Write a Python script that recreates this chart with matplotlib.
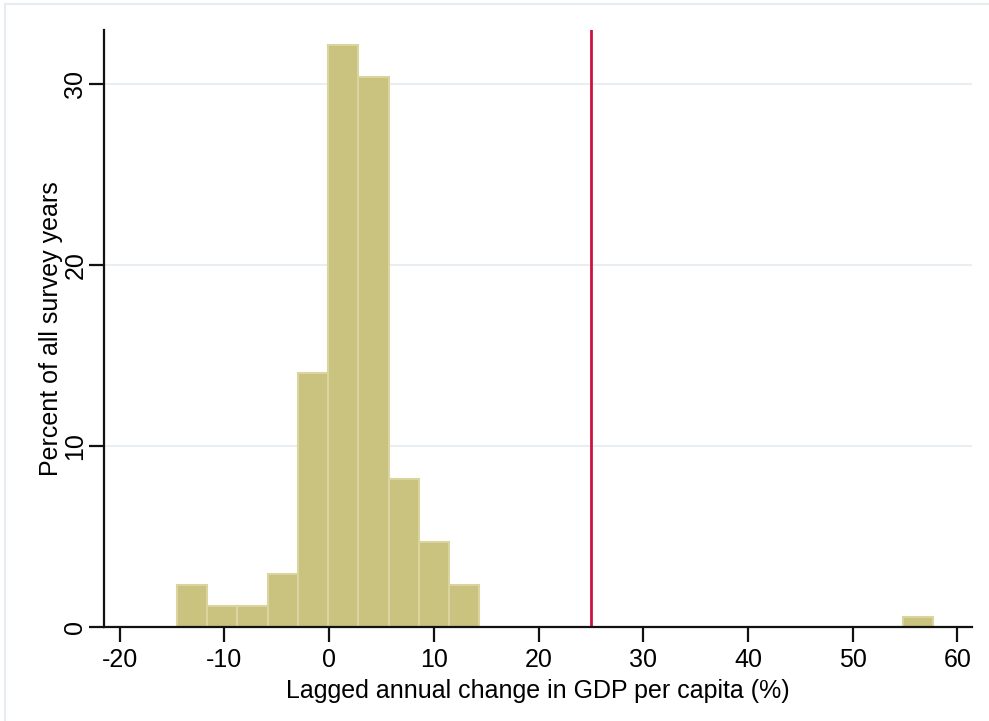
import matplotlib.pyplot as plt
import numpy as np

plt.rcParams['font.family'] = ['Liberation Sans', 'DejaVu Sans']
plt.rcParams['axes.unicode_minus'] = False

# histogram bins (Stata style: 25 bins from min to max)
bin_start = -14.55
bin_width = 2.89
percent = [2.34, 1.17, 1.17, 2.92, 14.04, 32.16, 30.41, 8.19, 4.68, 2.34,
           0, 0, 0, 0, 0, 0, 0, 0, 0, 0, 0, 0, 0, 0, 0.58]
cutoff = 25
xticks = [-20, -10, 0, 10, 20, 30, 40, 50, 60]
yticks = [0, 10, 20, 30]

fig = plt.figure(figsize=(9.89, 7.21), dpi=100)
ax = fig.add_axes([104/989, 94/721, 868/989, 597/721])

lefts = bin_start + bin_width*np.arange(len(percent))
h = np.array(percent)
m = h > 0
ax.bar(lefts[m], h[m], width=bin_width, align='edge', color='#cac27f',
       edgecolor='#dad49e', linewidth=1.5)

ax.axvline(cutoff, color='#cc1242', linewidth=2)

ax.set_xlim(-21.5, 61.4)
ax.set_ylim(0, 33)
ax.set_xticks(xticks)
ax.set_yticks(yticks)
ax.set_yticklabels([str(t) for t in yticks], rotation=90, va='center')
ax.grid(axis='y', color='#e8eef1', linewidth=1.5)
ax.set_axisbelow(True)
for s in ['top', 'right']:
    ax.spines[s].set_visible(False)
for s in ['left', 'bottom']:
    ax.spines[s].set_linewidth(1.6)
    ax.spines[s].set_color('#111111')
ax.tick_params(axis='both', length=11, width=1.6, labelsize=18, color='#111111')
ax.tick_params(axis='x', pad=4)
ax.tick_params(axis='y', pad=1)
ax.set_xlabel('Lagged annual change in GDP per capita (%)', fontsize=18, labelpad=5)
ax.set_ylabel('Percent of all survey years', fontsize=18, labelpad=0)

# light outer frame of the original graph region
fig.add_artist(plt.Line2D([5/989, 1], [1-4/721, 1-4/721], color='#e6ecef', linewidth=1.5))
fig.add_artist(plt.Line2D([5/989, 5/989], [0, 1-4/721], color='#e6ecef', linewidth=1.5))

fig.savefig('out.png', dpi=100)
